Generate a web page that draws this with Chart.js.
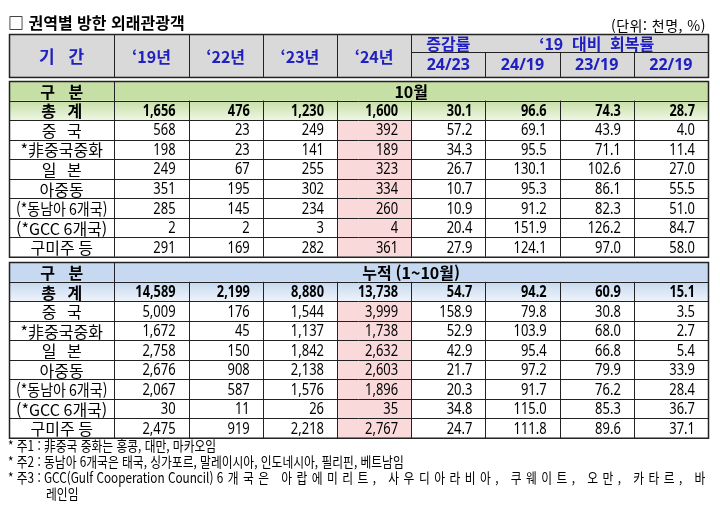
<!DOCTYPE html>
<html lang="ko">
<head>
<meta charset="utf-8">
<script src="https://cdn.jsdelivr.net/npm/chart.js@4"></script>
<style>
  body { margin: 0; background: #fff; }
  #wrap { position: relative; width: 720px; height: 505px; }
  #chart { position: absolute; left: 0; top: 0; }
  .t { position: absolute; white-space: nowrap; font-family: "Noto Sans CJK KR", sans-serif; color: #000; }
  #title { left: 8px; top: 10px; font-size: 16px; font-weight: bold; }
  #unit { right: 14px; top: 15px; font-size: 14px; letter-spacing: 0.5px; }
  .note { left: 8px; font-size: 14px; transform-origin: left center; transform: scaleX(0.84); line-height: 16px; }
  .sp { letter-spacing: 5.3px; }
</style>
</head>
<body>
<div id="wrap">
  <canvas id="chart" width="720" height="505"></canvas>
  <div class="t" id="title">□ 권역별 방한 외래관광객</div>
  <div class="t" id="unit">(단위: 천명, %)</div>
  <div class="t note" style="top:437px">* 주1 : 非중국 중화는 홍콩, 대만, 마카오임</div>
  <div class="t note" style="top:453px">* 주2 : 동남아 6개국은 태국, 싱가포르, 말레이시아, 인도네시아, 필리핀, 베트남임</div>
  <div class="t note" style="top:469px">* 주3 : GCC(Gulf Cooperation Council) <span class="sp">6개국은 아랍에미리트, 사우디아라비아, 쿠웨이트, 오만, 카타르, 바</span></div>
  <div class="t note" style="top:485px; left:46px">레인임</div>
</div>
<script>
// row labels and column heads
const categories = ['중 국', '*非중국중화', '일 본', '아중동', '(*동남아 6개국)', '(*GCC 6개국)', '구미주 등'];
const periods = ['‘19년', '‘22년', '‘23년', '‘24년'];
const rateHeads = ['24/23', '24/19', '23/19', '22/19'];

// 10월 (thousand persons, %)
const octTotals = [1656, 476, 1230, 1600, 30.1, 96.6, 74.3, 28.7];
const oct19 = [568, 198, 249, 351, 285, 2, 291];
const oct22 = [23, 23, 67, 195, 145, 2, 169];
const oct23 = [249, 141, 255, 302, 234, 3, 282];
const oct24 = [392, 189, 323, 334, 260, 4, 361];
const octGrowth = [57.2, 34.3, 26.7, 10.7, 10.9, 20.4, 27.9];
const octRec24 = [69.1, 95.5, 130.1, 95.3, 91.2, 151.9, 124.1];
const octRec23 = [43.9, 71.1, 102.6, 86.1, 82.3, 126.2, 97.0];
const octRec22 = [4.0, 11.4, 27.0, 55.5, 51.0, 84.7, 58.0];

// 누적 (1~10월)
const cumTotals = [14589, 2199, 8880, 13738, 54.7, 94.2, 60.9, 15.1];
const cum19 = [5009, 1672, 2758, 2676, 2067, 30, 2475];
const cum22 = [176, 45, 150, 908, 587, 11, 919];
const cum23 = [1544, 1137, 1842, 2138, 1576, 26, 2218];
const cum24 = [3999, 1738, 2632, 2603, 1896, 35, 2767];
const cumGrowth = [158.9, 52.9, 42.9, 21.7, 20.3, 34.8, 24.7];
const cumRec24 = [79.8, 103.9, 95.4, 97.2, 91.7, 115.0, 111.8];
const cumRec23 = [30.8, 68.0, 66.8, 79.9, 76.2, 85.3, 89.6];
const cumRec22 = [3.5, 2.7, 5.4, 33.9, 28.4, 36.7, 37.1];

// table grid in scale units
const colEdges = [0, 1.42, 2.42, 3.42, 4.42, 5.42, 6.42, 7.42, 8.42, 9.42];
const headMid = 0.92, headBottom = 2.2;
const sectionTops = [2.41, 11.69];
const yMax = 20.69;

const sections = [
  { title: '10월', fill: '#c6dfa4', light: '#eef6e4', totals: octTotals,
    cols: [oct19, oct22, oct23, oct24, octGrowth, octRec24, octRec23, octRec22] },
  { title: '누적 (1~10월)', fill: '#c6d9f0', light: '#eef3fa', totals: cumTotals,
    cols: [cum19, cum22, cum23, cum24, cumGrowth, cumRec24, cumRec23, cumRec22] }
];

const KR = '"Noto Sans CJK KR", sans-serif';
const NUM = '"Noto Sans", "Noto Sans CJK KR", sans-serif';
const blue = '#2020c0';

function fmt(v, col) {
  return col < 4 ? v.toLocaleString('en-US') : v.toFixed(1);
}

const tablePlugin = {
  id: 'tablePlugin',
  afterDraw(chart) {
    const { ctx, scales: { x, y } } = chart;
    const X = i => x.getPixelForValue(colEdges[i]);
    const Y = v => y.getPixelForValue(v);

    function rect(c0, c1, r0, r1, fill) {
      ctx.fillStyle = fill;
      ctx.fillRect(X(c0), Y(r0), X(c1) - X(c0), Y(r1) - Y(r0));
    }
    function hline(c0, c1, r, w) {
      ctx.lineWidth = w || 1;
      ctx.beginPath();
      ctx.moveTo(X(c0), Math.round(Y(r)) + 0.5);
      ctx.lineTo(X(c1), Math.round(Y(r)) + 0.5);
      ctx.stroke();
    }
    function vline(c, r0, r1, w) {
      ctx.lineWidth = w || 1;
      ctx.beginPath();
      ctx.moveTo(Math.round(X(c)) + 0.5, Y(r0));
      ctx.lineTo(Math.round(X(c)) + 0.5, Y(r1));
      ctx.stroke();
    }
    function text(t, c0, c1, r0, r1, o) {
      o = o || {};
      ctx.save();
      ctx.fillStyle = o.color || '#000';
      ctx.font = (o.bold ? 'bold ' : '') + (o.size || 15) + 'px ' + (o.family || KR);
      ctx.textBaseline = 'middle';
      if ('wordSpacing' in ctx) ctx.wordSpacing = (o.ws || 0) + 'px';
      const ym = (Y(r0) + Y(r1)) / 2 + 1;
      if (o.right) {
        ctx.translate(X(c1) - 13, ym);
        ctx.scale(o.sx || 1, 1);
        ctx.textAlign = 'right';
        ctx.fillText(t, 0, 0);
      } else {
        ctx.textAlign = 'center';
        const w = X(c1) - X(c0) - 14;
        ctx.fillText(t, (X(c0) + X(c1)) / 2, ym, w);
      }
      ctx.restore();
    }

    ctx.save();
    ctx.strokeStyle = '#222';

    // header block
    rect(0, 9, 0, headBottom, '#d9d9d9');
    text('기 간', 0, 1, 0, headBottom, { bold: true, size: 17, color: blue, ws: 10 });
    periods.forEach((p, i) => text(p, i + 1, i + 2, 0, headBottom, { bold: true, size: 16, color: blue }));
    text('증감률', 5, 6, 0, headMid, { bold: true, size: 16, color: blue, ws: 3 });
    text('‘19 대비 회복률', 6, 9, 0, headMid, { bold: true, size: 16, color: blue, ws: 5 });
    rateHeads.forEach((h, i) => text(h, i + 5, i + 6, headMid, headBottom, { bold: true, size: 16, color: blue, family: NUM }));
    for (let c = 1; c <= 5; c++) vline(c, 0, headBottom);
    for (let c = 6; c <= 8; c++) vline(c, headMid, headBottom);
    hline(5, 9, headMid);
    ctx.lineWidth = 1.5;
    ctx.strokeRect(Math.round(X(0)) + 0.5, Math.round(Y(0)) + 0.5, X(9) - X(0), Y(headBottom) - Y(0));

    // data sections
    sections.forEach((s, si) => {
      const top = sectionTops[si];
      const bottom = top + 2 + categories.length;
      rect(0, 9, top, top + 1, s.fill);
      const g = ctx.createLinearGradient(0, Y(top + 1), 0, Y(top + 2));
      g.addColorStop(0, s.fill);
      g.addColorStop(1, s.light);
      rect(0, 9, top + 1, top + 2, g);
      rect(0, 9, top + 2, bottom, '#ffffff');
      rect(4, 5, top + 2, bottom, '#f9d9d9');

      text('구 분', 0, 1, top, top + 1, { bold: true, size: 16, ws: 10 });
      text(s.title, 1, 9, top, top + 1, { bold: true, size: 16 });
      text('총 계', 0, 1, top + 1, top + 2, { bold: true, size: 16, ws: 8 });
      s.totals.forEach((v, c) => text(fmt(v, c), c + 1, c + 2, top + 1, top + 2,
        { bold: true, size: 16, family: NUM, right: true, sx: 0.8 }));
      categories.forEach((cat, r) => {
        const r0 = top + 2 + r;
        const short = /^\S \S$/.test(cat);
        text(cat, 0, 1, r0, r0 + 1, { size: 16, ws: short ? 7 : 0 });
        s.cols.forEach((arr, c) => text(fmt(arr[r], c), c + 1, c + 2, r0, r0 + 1,
          { size: 16, family: NUM, right: true, sx: 0.81 }));
      });

      for (let r = top + 1; r < bottom; r++) hline(0, 9, r);
      vline(1, top, bottom);
      for (let c = 2; c <= 8; c++) vline(c, top + 1, bottom);
      ctx.lineWidth = 1.5;
      ctx.strokeRect(Math.round(X(0)) + 0.5, Math.round(Y(top)) + 0.5, X(9) - X(0), Y(bottom) - Y(top));
    });
    ctx.restore();
  }
};

new Chart(document.getElementById('chart'), {
  type: 'bar',
  data: { labels: [], datasets: [] },
  options: {
    responsive: false,
    animation: false,
    layout: { padding: { left: 9, right: 12, top: 34, bottom: 67 } },
    scales: {
      x: { type: 'linear', min: 0, max: colEdges[colEdges.length - 1], offset: false, display: false },
      y: { type: 'linear', min: 0, max: yMax, reverse: true, offset: false, display: false }
    },
    plugins: { legend: { display: false }, tooltip: { enabled: false } }
  },
  plugins: [tablePlugin]
});
</script>
</body>
</html>
